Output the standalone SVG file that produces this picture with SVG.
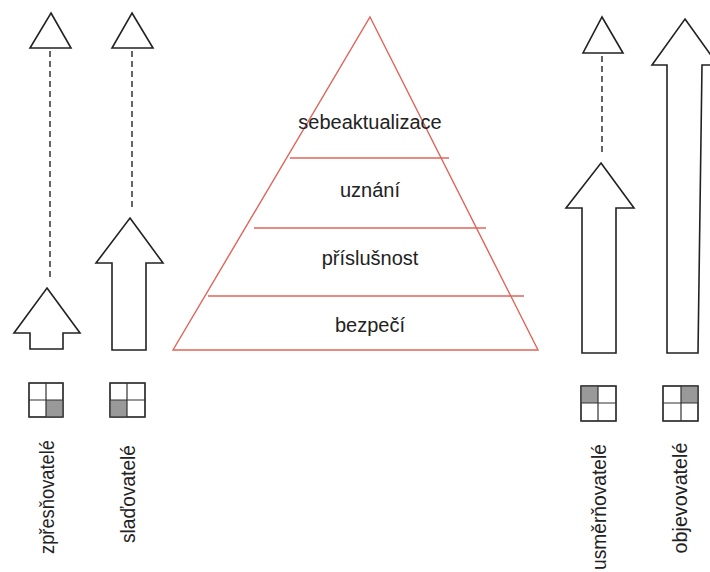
<svg xmlns="http://www.w3.org/2000/svg" width="710" height="572" viewBox="0 0 710 572">
<style>
.arrow{fill:#fff;stroke:#222;stroke-width:1.6;stroke-linejoin:miter}
.dash{stroke:#333;stroke-width:1.5;stroke-dasharray:6 4;fill:none}
.pyr{fill:#fff;stroke:#e0645a;stroke-width:1.4}
.lvl{font-family:"Liberation Sans",Arial,sans-serif;font-size:20px;fill:#222;text-anchor:middle}
.lbl{font-family:"Liberation Sans",Arial,sans-serif;font-size:20px;fill:#222}
.sq{fill:#fff;stroke:#333;stroke-width:1.3}
.sh{fill:#999}
</style>
<rect width="710" height="572" fill="#fff"/>
<g id="pyramid">
<polygon class="pyr" points="370,17 538,350 173,350"/>
<line class="pyr" x1="290" y1="158" x2="449" y2="158"/>
<line class="pyr" x1="254" y1="228" x2="486" y2="228"/>
<line class="pyr" x1="208" y1="296" x2="524" y2="296"/>
<text class="lvl" x="370" y="129">sebeaktualizace</text>
<text class="lvl" x="370" y="197">uznání</text>
<text class="lvl" x="370" y="265">příslušnost</text>
<text class="lvl" x="370" y="332">bezpečí</text>
</g>
<g id="connectors">
<line class="dash" x1="50" y1="51" x2="50" y2="280"/>
<line class="dash" x1="132" y1="51" x2="132" y2="208"/>
<line class="dash" x1="602" y1="56" x2="602" y2="153"/>
</g>
<g id="zpresnovatele">
<polygon class="arrow" points="51,13 71,48 30,48"/>
<polygon class="arrow" points="47,288 80,333 63,333 63,349 30,349 30,333 14,333"/>
<rect class="sq" x="29" y="383" width="34" height="34"/>
<rect class="sh" x="46" y="400" width="17" height="17"/>
<path d="M46 383V417M29 400H63" stroke="#333" stroke-width="1.2"/>
<rect x="29" y="383" width="34" height="34" fill="none" stroke="#333" stroke-width="1.3"/>
<text class="lbl" text-anchor="middle" textLength="114" lengthAdjust="spacingAndGlyphs" transform="translate(54,497) rotate(-90)">zpřesňovatelé</text>
</g>
<g id="sladovatele">
<polygon class="arrow" points="132,13 153,48 112,48"/>
<polygon class="arrow" points="130,218 163,263 146,263 146,350 112,350 112,263 96,263"/>
<rect class="sq" x="110" y="383" width="35" height="34"/>
<rect class="sh" x="110" y="400" width="17" height="17"/>
<path d="M127 383V417M110 400H145" stroke="#333" stroke-width="1.2"/>
<rect x="110" y="383" width="35" height="34" fill="none" stroke="#333" stroke-width="1.3"/>
<text class="lbl" text-anchor="middle" textLength="98" lengthAdjust="spacingAndGlyphs" transform="translate(135,494) rotate(-90)">slaďovatelé</text>
</g>
<g id="usmernovatele">
<polygon class="arrow" points="602,17 623,53 583,53"/>
<polygon class="arrow" points="601,163 634,208 616,208 616,353 582,353 582,208 566,208"/>
<rect class="sq" x="581" y="386" width="35" height="35"/>
<rect class="sh" x="581" y="386" width="17" height="17"/>
<path d="M598 386V421M581 403H616" stroke="#333" stroke-width="1.2"/>
<rect x="581" y="386" width="35" height="35" fill="none" stroke="#333" stroke-width="1.3"/>
<text class="lbl" text-anchor="start" textLength="126" lengthAdjust="spacingAndGlyphs" transform="translate(606,570) rotate(-90)">usměrňovatelé</text>
</g>
<g id="objevovatele">
<polygon class="arrow" points="685,19 718,65 702,65 698,353 667,353 667,65 652,65"/>
<rect class="sq" x="663" y="386" width="35" height="35"/>
<rect class="sh" x="681" y="386" width="17" height="17"/>
<path d="M681 386V421M663 403H698" stroke="#333" stroke-width="1.2"/>
<rect x="663" y="386" width="35" height="35" fill="none" stroke="#333" stroke-width="1.3"/>
<text class="lbl" text-anchor="middle" textLength="111" lengthAdjust="spacingAndGlyphs" transform="translate(687,498) rotate(-90)">objevovatelé</text>
</g>
</svg>
